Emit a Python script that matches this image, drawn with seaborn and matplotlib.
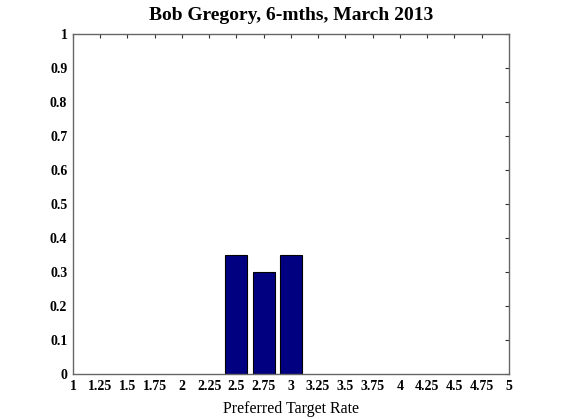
import matplotlib
matplotlib.use("Agg")
import matplotlib.pyplot as plt
import seaborn as sns
import pandas as pd
import numpy as np

rates = [2.5, 2.75, 3.0]
probs = [0.35, 0.30, 0.35]
xticks = [1, 1.25, 1.5, 1.75, 2, 2.25, 2.5, 2.75, 3, 3.25, 3.5, 3.75, 4, 4.25, 4.5, 4.75, 5]
xtick_labels = ["1", "1.25", "1.5", "1.75", "2", "2.25", "2.5", "2.75", "3", "3.25",
                "3.5", "3.75", "4", "4.25", "4.5", "4.75", "5"]
yticks = [0, 0.1, 0.2, 0.3, 0.4, 0.5, 0.6, 0.7, 0.8, 0.9, 1]
ytick_labels = ["0", "0.1", "0.2", "0.3", "0.4", "0.5", "0.6", "0.7", "0.8", "0.9", "1"]

sns.set_style("white")
plt.rcParams['font.family'] = ['Liberation Serif', 'DejaVu Serif']
plt.rcParams['text.color'] = 'black'
plt.rcParams['axes.labelcolor'] = 'black'

df = pd.DataFrame({"rate": rates, "prob": probs})

fig = plt.figure(figsize=(5.61, 4.19), dpi=100)
ax = fig.add_axes([0.130, 0.107, 0.777, 0.812])
sns.barplot(data=df, x="rate", y="prob", native_scale=True, color="#000080",
            saturation=1, edgecolor="black", linewidth=0.8, width=0.8, ax=ax)

ax.set_xlim(1, 5)
ax.set_ylim(0, 1)
ax.set_xticks(xticks)
ax.set_xticklabels(xtick_labels, fontsize=10, fontweight="bold")
ax.set_yticks(yticks)
ax.set_yticklabels(ytick_labels, fontsize=10, fontweight="bold")
ax.tick_params(direction="in", top=True, right=True, length=3, width=0.8,
               colors="#333333", labelcolor="black", pad=4)
for s in ax.spines.values():
    s.set_visible(True)
    s.set_color("#666666")
    s.set_linewidth(1.0)
ax.set_xlabel("Preferred Target Rate", fontsize=11.5, labelpad=6)
ax.set_ylabel("")
ax.set_title("Bob Gregory, 6-mths, March 2013", fontsize=14, fontweight="bold", pad=10)

fig.savefig("out.png", dpi=100)
